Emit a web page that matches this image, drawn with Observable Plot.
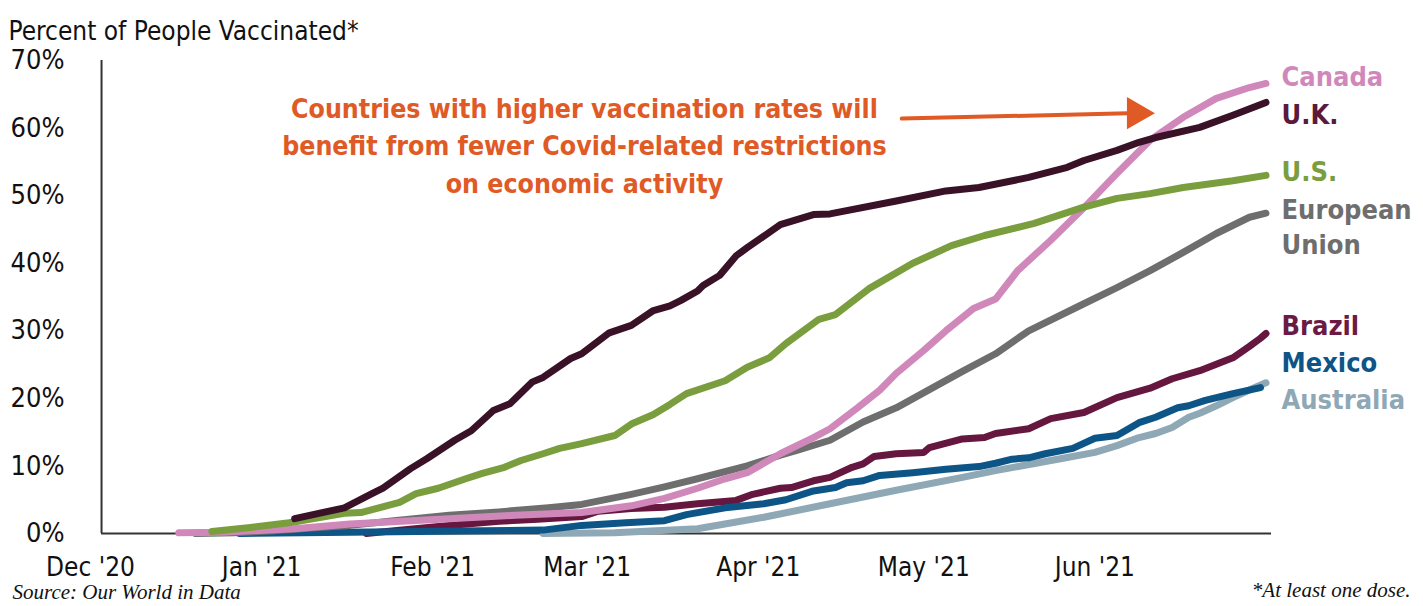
<!DOCTYPE html>
<html><head><meta charset="utf-8">
<script src="https://cdn.jsdelivr.net/npm/d3@7"></script>
<script src="https://cdn.jsdelivr.net/npm/@observablehq/plot@0.6"></script>
<style>
body{margin:0;background:#fff}
#chart svg text{font-stretch:condensed}
</style></head><body><div id="chart"></div>
<script>
// ---- data ----
const countries = ["Australia","Brazil","Mexico","European Union","Canada","U.S.","U.K."];
const colors    = ["#8fa8b6","#65173f","#0d5587","#6e6e6e","#d088bb","#7a9e3e","#3a1227"];

const canada = [["2020-12-17",0.1],["2020-12-25",0.2],["2021-01-07",0.7],["2021-01-17",1.4],["2021-02-04",2.2],["2021-02-16",2.7],["2021-02-28",3.1],["2021-03-09",4.1],["2021-03-15",5.2],["2021-03-21",6.7],["2021-03-26",8.1],["2021-03-30",9.0],["2021-04-05",11.8],["2021-04-11",14.2],["2021-04-14",15.5],["2021-04-19",18.6],["2021-04-23",21.2],["2021-04-26",23.7],["2021-05-01",27.1],["2021-05-05",30.0],["2021-05-10",33.3],["2021-05-14",34.7],["2021-05-18",38.9],["2021-05-24",43.4],["2021-05-30",48.2],["2021-06-05",53.3],["2021-06-11",58.2],["2021-06-17",61.6],["2021-06-23",64.4],["2021-06-29",66.0],["2021-07-02",66.6]];
const uk = [["2021-01-07",2.2],["2021-01-16",3.8],["2021-01-21",5.9],["2021-01-23",6.7],["2021-01-28",9.6],["2021-01-31",11.1],["2021-02-05",13.8],["2021-02-08",15.2],["2021-02-12",18.2],["2021-02-15",19.2],["2021-02-19",22.4],["2021-02-21",23.1],["2021-02-26",25.9],["2021-02-28",26.6],["2021-03-05",29.7],["2021-03-09",30.8],["2021-03-13",33.0],["2021-03-16",33.7],["2021-03-18",34.5],["2021-03-21",35.9],["2021-03-22",36.7],["2021-03-25",38.2],["2021-03-28",41.1],["2021-03-30",42.3],["2021-04-05",45.7],["2021-04-11",47.2],["2021-04-14",47.3],["2021-04-26",49.2],["2021-05-05",50.7],["2021-05-11",51.2],["2021-05-20",52.7],["2021-05-27",54.2],["2021-05-30",55.2],["2021-06-05",56.7],["2021-06-09",57.9],["2021-06-12",58.6],["2021-06-20",60.1],["2021-06-26",61.9],["2021-07-02",63.8]];
const us = [["2020-12-23",0.3],["2020-12-30",0.9],["2021-01-06",1.6],["2021-01-16",3.0],["2021-01-19",3.1],["2021-01-26",4.6],["2021-01-29",5.9],["2021-02-02",6.7],["2021-02-07",8.1],["2021-02-10",8.9],["2021-02-14",9.8],["2021-02-17",10.8],["2021-02-21",11.8],["2021-02-24",12.6],["2021-02-28",13.3],["2021-03-06",14.5],["2021-03-09",16.2],["2021-03-13",17.6],["2021-03-16",19.1],["2021-03-19",20.7],["2021-03-26",22.6],["2021-03-30",24.6],["2021-04-03",26.0],["2021-04-06",28.1],["2021-04-12",31.7],["2021-04-15",32.4],["2021-04-18",34.3],["2021-04-21",36.2],["2021-04-29",40.0],["2021-05-06",42.6],["2021-05-12",44.1],["2021-05-21",45.9],["2021-05-30",48.3],["2021-06-05",49.6],["2021-06-11",50.3],["2021-06-17",51.2],["2021-06-26",52.2],["2021-07-02",53.0]];
const eu = [["2020-12-20",0.0],["2020-12-27",0.1],["2021-01-03",0.4],["2021-01-10",0.8],["2021-01-17",1.2],["2021-01-25",1.9],["2021-02-04",2.7],["2021-02-13",3.2],["2021-02-22",3.8],["2021-02-28",4.3],["2021-03-09",5.8],["2021-03-15",6.9],["2021-03-21",8.1],["2021-03-30",10.0],["2021-04-05",11.6],["2021-04-08",12.3],["2021-04-14",13.8],["2021-04-20",16.5],["2021-04-26",18.6],["2021-05-02",21.3],["2021-05-08",24.0],["2021-05-14",26.6],["2021-05-20",30.0],["2021-05-30",34.0],["2021-06-05",36.4],["2021-06-11",38.9],["2021-06-17",41.6],["2021-06-23",44.4],["2021-06-29",46.8],["2021-07-02",47.4]];
const brazil = [["2021-01-20",0.0],["2021-01-26",0.5],["2021-02-04",1.2],["2021-02-13",1.8],["2021-02-20",2.1],["2021-02-28",2.5],["2021-03-03",3.3],["2021-03-09",3.7],["2021-03-15",3.9],["2021-03-21",4.4],["2021-03-28",4.9],["2021-03-31",5.8],["2021-04-05",6.7],["2021-04-07",6.8],["2021-04-11",7.8],["2021-04-14",8.3],["2021-04-18",9.8],["2021-04-20",10.3],["2021-04-22",11.4],["2021-04-26",11.8],["2021-05-01",12.0],["2021-05-02",12.7],["2021-05-08",14.0],["2021-05-12",14.2],["2021-05-14",14.8],["2021-05-20",15.5],["2021-05-24",17.0],["2021-05-30",17.9],["2021-06-05",20.1],["2021-06-11",21.5],["2021-06-15",22.9],["2021-06-20",24.1],["2021-06-26",26.0],["2021-06-29",27.7],["2021-07-01",28.9],["2021-07-02",29.6]];
const mexico = [["2020-12-28",0.0],["2021-01-17",0.2],["2021-02-10",0.4],["2021-02-21",0.5],["2021-02-28",1.2],["2021-03-08",1.6],["2021-03-15",1.9],["2021-03-19",2.8],["2021-03-26",3.8],["2021-04-02",4.4],["2021-04-06",5.0],["2021-04-11",6.3],["2021-04-15",6.8],["2021-04-17",7.5],["2021-04-20",7.8],["2021-04-23",8.6],["2021-04-29",9.0],["2021-05-05",9.5],["2021-05-11",9.9],["2021-05-14",10.4],["2021-05-17",11.0],["2021-05-20",11.2],["2021-05-23",11.8],["2021-05-28",12.6],["2021-06-01",14.1],["2021-06-05",14.5],["2021-06-09",16.4],["2021-06-12",17.2],["2021-06-16",18.6],["2021-06-18",18.9],["2021-06-21",19.7],["2021-06-26",20.7],["2021-07-01",21.6]];
const australia = [["2021-02-21",0.0],["2021-03-06",0.1],["2021-03-21",0.7],["2021-04-02",2.4],["2021-04-14",4.4],["2021-04-26",6.4],["2021-05-08",8.3],["2021-05-14",9.3],["2021-05-26",11.1],["2021-06-01",12.0],["2021-06-05",13.0],["2021-06-09",14.2],["2021-06-12",14.8],["2021-06-15",15.7],["2021-06-18",17.2],["2021-06-20",17.8],["2021-06-23",18.9],["2021-06-26",20.1],["2021-06-30",21.6],["2021-07-02",22.3]];

const monthTicks  = ["2020-12-01","2021-01-01","2021-02-01","2021-03-01","2021-04-01","2021-05-01","2021-06-01"];
const monthLabels = ["Dec '20","Jan '21","Feb '21","Mar '21","Apr '21","May '21","Jun '21"];
const yTicks = [0,10,20,30,40,50,60,70];

const endLabels = ["Canada","U.K.","U.S.","European","Union","Brazil","Mexico","Australia"];
const endLabelY = [67.5,61.9,53.4,47.8,42.6,30.6,25.2,19.7];
const endLabelColor = ["#d088bb","#5a1a3b","#7a9e3e","#6e6e6e","#6e6e6e","#6b1a45","#0d5587","#8fa8b6"];

const title = "Percent of People Vaccinated*";
const note = "Countries with higher vaccination rates will\nbenefit from fewer Covid-related restrictions\non economic activity";
const source = "Source: Our World in Data";
const footnote = "*At least one dose.";

// ---- build table ----
const seriesByName = {"Canada":canada,"U.K.":uk,"U.S.":us,"European Union":eu,"Brazil":brazil,"Mexico":mexico,"Australia":australia};
const rows = countries.flatMap(c => seriesByName[c].map(([d,v]) => ({country:c, date:new Date(d), value:v})));
const D = s => new Date(s);
const xDomain = [D("2020-12-01"), D("2021-07-03")];
const frameStart = D("2020-12-03");
const orange = "#e05a26";
const COND = '"Liberation Sans Narrow","DejaVu Sans Condensed","Roboto Condensed","Open Sans Condensed","Noto Sans",sans-serif';

const chart = Plot.plot({
  width: 1423, height: 606,
  marginTop: 60, marginBottom: 73, marginLeft: 90, marginRight: 152,
  style: {fontFamily: COND, background: "#fff", color: "#111"},
  x: {type: "utc", domain: xDomain},
  y: {domain: [0, 70]},
  color: {domain: countries, range: colors},
  marks: [
    Plot.axisY({ticks: yTicks, tickSize: 0, tickPadding: 26, tickFormat: d => d + "%", fontSize: 27, fill: "#111"}),
    Plot.axisX({ticks: monthTicks.map(D), tickSize: 0, tickPadding: 0, tickFormat: (d, i) => monthLabels[i], fontSize: 26, fill: "#111", lineAnchor: "middle", dy: 34}),
    Plot.ruleX([frameStart], {y1: 0, y2: 70, stroke: "#333", strokeWidth: 2}),
    Plot.ruleY([0], {x1: frameStart, x2: xDomain[1], stroke: "#333", strokeWidth: 2}),
    Plot.line(rows, {x: "date", y: "value", z: "country", stroke: "country", strokeWidth: 7, strokeLinecap: "round", strokeLinejoin: "round"}),
    Plot.text(endLabels.map((t, i) => ({t, y: endLabelY[i], c: endLabelColor[i]})), {y: "y", text: "t", fill: "c", frameAnchor: "right", dx: 10, textAnchor: "start", fontWeight: "bold", fontSize: 27}),
    Plot.text([{x: D("2021-02-28T12:00"), y: 57.7, t: note}], {x: "x", y: "y", text: "t", fill: orange, fontWeight: "bold", fontSize: 26.5, lineHeight: 1.4, textAnchor: "middle"}),
    Plot.arrow([{x1: D("2021-04-27"), y1: 61.4, x2: D("2021-06-07"), y2: 62.2}], {x1: "x1", y1: "y1", x2: "x2", y2: "y2", stroke: orange, strokeWidth: 4, headLength: 0}),
    Plot.dot([{x: D("2021-06-08T12:00"), y: 62.2}], {x: "x", y: "y", symbol: "triangle", r: 12, rotate: 90, fill: orange, stroke: "none"}),
    Plot.text([title], {frameAnchor: "top-left", dx: -82, dy: -39, textAnchor: "start", fontSize: 26, fill: "#111"}),
    Plot.text([source], {frameAnchor: "bottom-left", dx: -78, dy: 65, textAnchor: "start", fontSize: 21, fontStyle: "italic", fontFamily: '"Liberation Serif",serif', fill: "#111"}),
    Plot.text([footnote], {frameAnchor: "bottom-right", dx: 139, dy: 63, textAnchor: "end", fontSize: 21, fontStyle: "italic", fontFamily: '"Liberation Serif",serif', fill: "#111"})
  ]
});
document.getElementById("chart").append(chart);
</script></body></html>
